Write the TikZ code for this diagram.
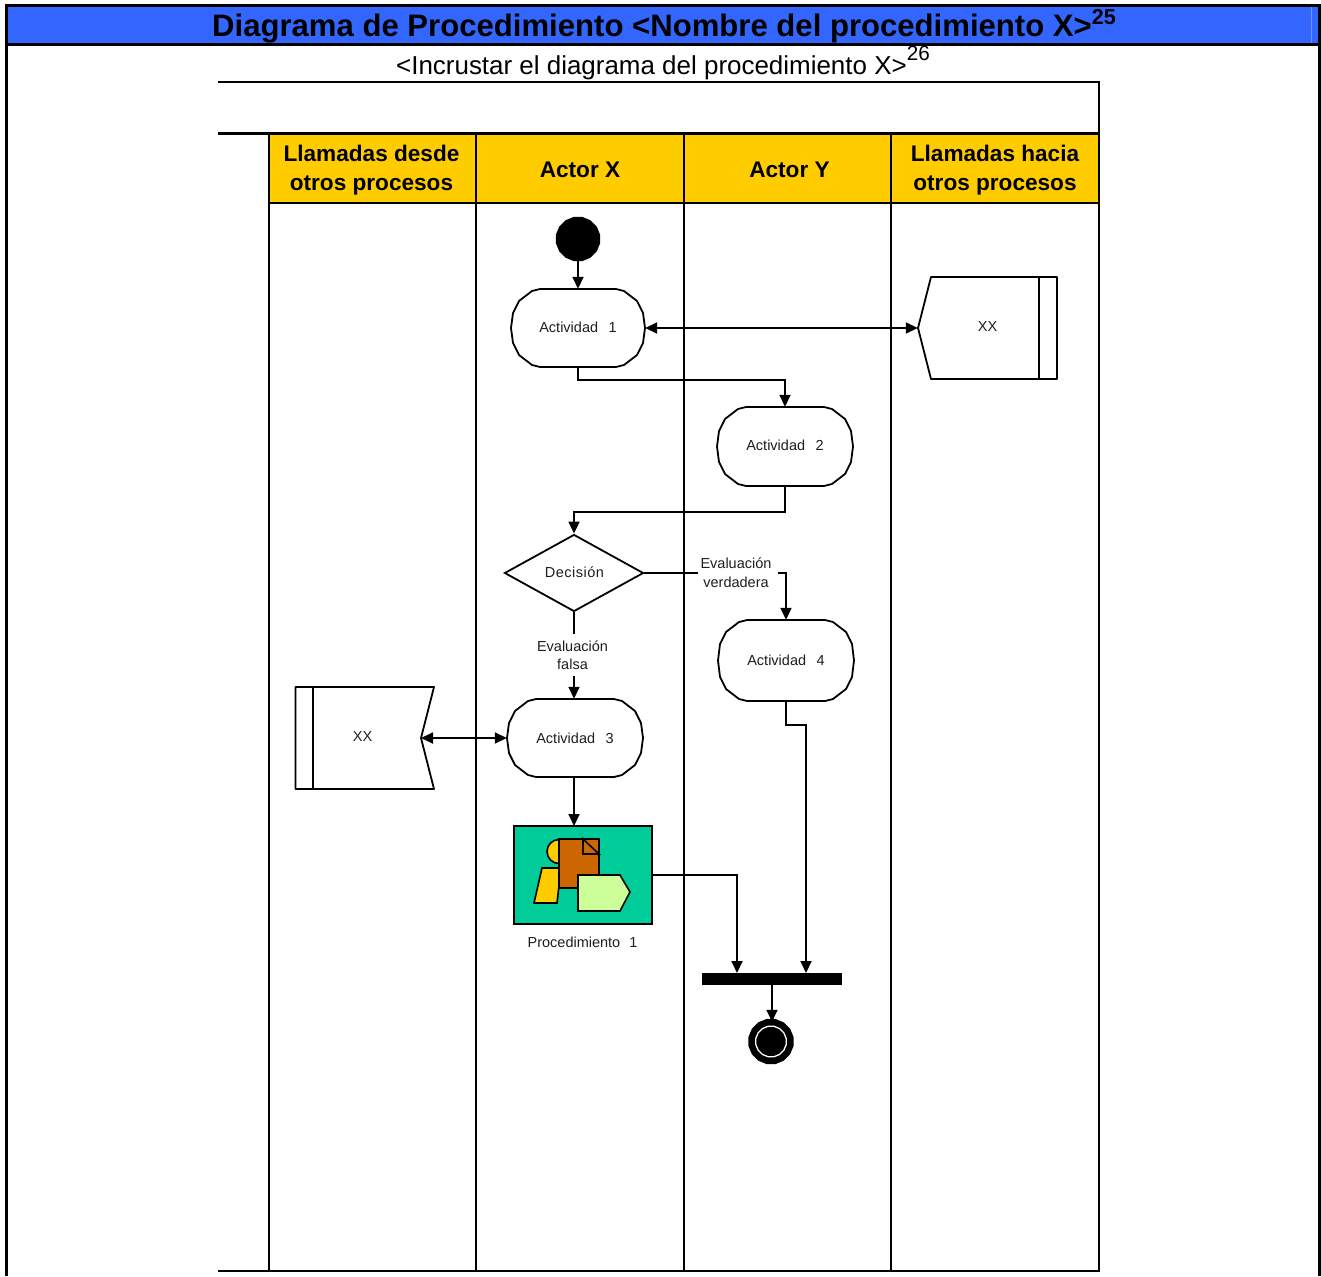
\documentclass[tikz,border=0pt]{standalone}
\usepackage{fontspec}
\setmainfont{Liberation Sans}
\usetikzlibrary{arrows.meta,shapes.geometric}
\definecolor{hdrblue}{RGB}{51,102,255}
\definecolor{laneyellow}{RGB}{255,204,0}
\definecolor{procgreen}{RGB}{0,204,153}
\definecolor{docbrown}{RGB}{204,102,0}
\definecolor{palegreen}{RGB}{204,255,153}
\definecolor{inktext}{RGB}{30,30,30}
\tikzset{
  flow/.style={line width=1.8pt,draw=black},
  arr/.style={flow,-{Triangle[length=12pt,width=11pt]}},
  biarr/.style={flow,{Triangle[length=12pt,width=11pt]}-{Triangle[length=12pt,width=11pt]}},
  small/.style={font=\fontsize{14.5}{18}\selectfont,text=inktext,align=center,inner sep=0pt},
  lanehead/.style={font=\fontsize{22.6}{29}\selectfont\bfseries,align=center,inner sep=0pt},
  lane/.style={line width=1.9pt,draw=black},
  outline/.style={line width=1.8pt,draw=black,line join=round},
  iconline/.style={line width=1.6pt,draw=black,line join=miter},
}
% name, x, y, half-width, half-height, text
\newcommand{\actnode}[6]{%
  \node[small,minimum width=#4*2pt,minimum height=#5*2pt] (#1) at (#2,#3) {#6};
  \draw[outline] (#2-#4,#3) -- (#2-#4+2,#3-#5+24) -- (#2-#4+8,#3-#5+12) -- (#2-#4+21,#3-#5+2) -- (#2-#4+29,#3-#5)
    -- (#2+#4-29,#3-#5) -- (#2+#4-21,#3-#5+2) -- (#2+#4-8,#3-#5+12) -- (#2+#4-2,#3-#5+24) -- (#2+#4,#3)
    -- (#2+#4-2,#3+#5-24) -- (#2+#4-8,#3+#5-12) -- (#2+#4-21,#3+#5-2) -- (#2+#4-29,#3+#5)
    -- (#2-#4+29,#3+#5) -- (#2-#4+21,#3+#5-2) -- (#2-#4+8,#3+#5-12) -- (#2-#4+2,#3+#5-24) -- cycle;
}
\begin{document}
\begin{tikzpicture}[x=1pt,y=-1pt]
\useasboundingbox (0,0) rectangle (1321,1276);
\fill[white] (0,0) rectangle (1321,1276);
% header
\fill[hdrblue] (6,5) rectangle (1319,44);
\draw[color=hdrblue!70!white,line width=0.7pt] (1311,7) -- (1311,43);
\draw[line width=3pt] (6,1276) -- (6,5.5) -- (1319.5,5.5) -- (1319.5,1276);
\draw[line width=2.6pt] (6,44.5) -- (1319.5,44.5);
\node[inner sep=0pt,font=\fontsize{31.1}{34}\selectfont\bfseries,anchor=base] (title) at (664,36.5)
  {Diagrama de Procedimiento <Nombre del procedimiento X>\raisebox{12pt}{\fontsize{21.5}{24}\selectfont 25}};
\node[inner sep=0pt,font=\fontsize{25.95}{30}\selectfont,anchor=base] (sub) at (663,75)
  {<Incrustar el diagrama del procedimiento X>\raisebox{14pt}{\fontsize{20.7}{24}\selectfont 26}};
% pool
\fill[laneyellow] (269,134) rectangle (1099,203);
\draw[line width=1.7pt] (218,82) -- (1099,82) -- (1099,1271) -- (218,1271);
\draw[line width=3pt] (218,134) -- (1099,134);
\draw[line width=1.6pt] (269,203) -- (1099,203);
\draw[line width=1.6pt] (269,134) -- (269,1271);
\draw[lane] (476,134) -- (476,1271);
\draw[line width=2.2pt] (684,134) -- (684,1271);
\draw[lane] (891,134) -- (891,1271);
\node[lanehead] (h1) at (371.5,170) {Llamadas desde\\otros procesos};
\node[lanehead] (h2) at (580,170) {Actor X};
\node[lanehead] (h3) at (789.5,170) {Actor Y};
\node[lanehead] (h4) at (995,170) {Llamadas hacia\\otros procesos};
% start / end
\node[regular polygon,regular polygon sides=16,fill=black,inner sep=0pt,minimum size=45pt] (start) at (578,239) {};
\node[regular polygon,regular polygon sides=16,fill=black,inner sep=0pt,minimum size=46pt] (finish) at (771,1041.5) {};
\node[regular polygon,regular polygon sides=16,draw=white,line width=1.3pt,inner sep=0pt,minimum size=31pt] (finishring) at (771,1041.5) {};
% activities
\actnode{a1}{578}{328}{67}{39}{\raisebox{1pt}{Actividad\hspace{10.5pt}1}}
\actnode{a2}{785}{446.5}{68}{39.5}{\raisebox{2pt}{Actividad\hspace{10.5pt}2}}
\actnode{a3}{575}{738}{68}{39}{\raisebox{-1pt}{Actividad\hspace{10.5pt}3}}
\actnode{a4}{786}{660.5}{68}{40.5}{\raisebox{1pt}{Actividad\hspace{10.5pt}4}}
% decision
\node[diamond,draw=black,line width=1.8pt,inner sep=0pt,minimum width=139pt,minimum height=77pt,small] (dec) at (574,573) {};
\node[small] (dectext) at (574.5,572) {\addfontfeature{LetterSpace=3.4}Decisión};
% off-page shapes
\node[small,minimum width=139pt,minimum height=102pt] (xr) at (987.5,328) {};
\node[small] (xrtext) at (987.5,326.5) {XX};
\draw[outline] (931,277) -- (1057,277) -- (1057,379) -- (931,379) -- (918,328) -- cycle;
\draw[outline] (1039,277) -- (1039,379);
\node[small,minimum width=139pt,minimum height=102pt] (xl) at (364.5,738) {};
\node[small] (xltext) at (362.5,736.5) {XX};
\coordinate (xltip) at (421,738);
\draw[outline] (295.5,687) -- (434,687) -- (421,738) -- (434,789) -- (295.5,789) -- cycle;
\draw[outline] (313,687) -- (313,789);
% subprocess
\node[draw=black,line width=1.8pt,fill=procgreen,minimum width=138pt,minimum height=98pt,outer sep=0pt,inner sep=0pt] (proc) at (583,875) {};
\fill[laneyellow,draw=black,line width=1.6pt] (559,839.5) arc[start angle=90,end angle=270,radius=12pt] -- cycle;
\filldraw[fill=laneyellow,iconline] (542,868) -- (561,868) -- (557,903) -- (534,903) -- cycle;
\filldraw[fill=docbrown,iconline] (559,839) rectangle (599,888);
\draw[iconline] (583,839) -- (599,854) -- (583,854) -- cycle;
\filldraw[fill=palegreen,iconline] (578,875) -- (620,875) -- (630,892) -- (620,911) -- (578,911) -- cycle;
\node[small] (proclabel) at (582.5,942) {Procedimiento\hspace{9pt}1};
% bar
\node[fill=black,minimum width=140pt,minimum height=12pt,inner sep=0pt] (bar) at (772,979) {};
\coordinate (barleft) at (737,973);
\coordinate (barright) at (806,973);
% connectors
\draw[arr] (start) -- (a1.north -| start);
\draw[biarr] (a1.east) -- (xr.west);
\draw[arr] (a1.south) -- ++(0,13) -| (a2.north);
\draw[arr] (a2.south) -- ++(0,26) -| (dec.north);
\draw[arr] (dec.east) -| (a4.north);
\node[small,fill=white,minimum width=80pt,minimum height=40pt] (evt) at (738,572) {};
\node[small] (evtx) at (736,572.5) {Evaluación\\[1pt]verdadera};
\draw[arr] (dec.south) -- (dec.south |- a3.north);
\node[small,fill=white,minimum width=76pt,minimum height=42pt] (eff) at (574.5,655) {};
\node[small] (efx) at (572.5,655) {Evaluación\\[0pt]falsa};
\draw[biarr] (xltip) -- (a3.west);
\draw[arr] (dec.south |- a3.south) -- (dec.south |- proc.north);
\draw[arr] (proc.east) -| (barleft);
\draw[arr] (a4.south) -- ++(0,24) -| (barright);
\draw[arr,shorten >=-3pt] (bar.south) -- (bar.south |- finish.north);
\end{tikzpicture}
\end{document}
